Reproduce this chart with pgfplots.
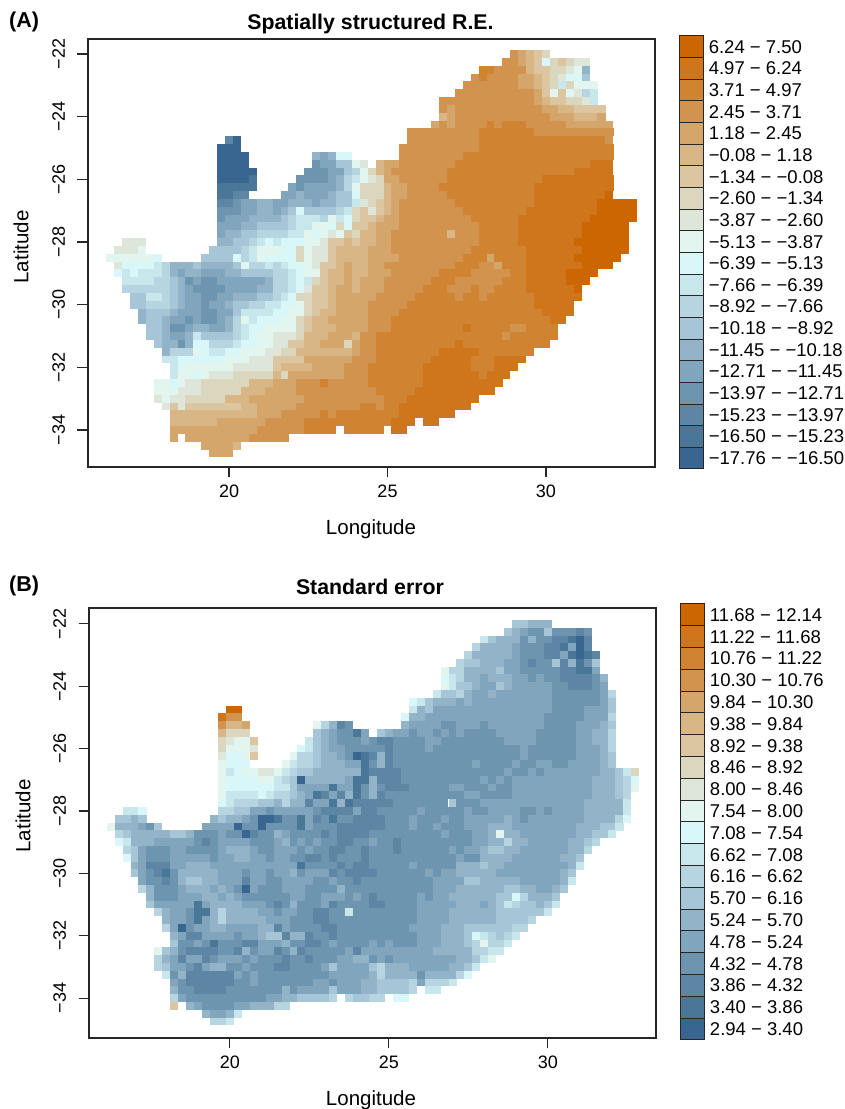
\documentclass[border=0pt]{standalone}
\usepackage{fontspec}
\setmainfont{Liberation Sans}
\usepackage{pgfplots}
\pgfplotsset{compat=1.18}
\definecolor{c1}{RGB}{56,102,144}\definecolor{c2}{RGB}{74,119,152}\definecolor{c3}{RGB}{92,134,164}\definecolor{c4}{RGB}{110,149,176}\definecolor{c5}{RGB}{128,165,188}
\definecolor{c6}{RGB}{147,180,200}\definecolor{c7}{RGB}{166,197,214}\definecolor{c8}{RGB}{183,213,224}\definecolor{c9}{RGB}{200,231,237}\definecolor{c10}{RGB}{217,246,248}
\definecolor{c11}{RGB}{226,245,239}\definecolor{c12}{RGB}{222,230,217}\definecolor{c13}{RGB}{219,214,190}\definecolor{c14}{RGB}{220,198,161}\definecolor{c15}{RGB}{216,182,133}
\definecolor{c16}{RGB}{212,166,107}\definecolor{c17}{RGB}{210,147,79}\definecolor{c18}{RGB}{208,131,49}\definecolor{c19}{RGB}{207,117,28}\definecolor{c20}{RGB}{204,102,0}
\pgfplotsset{colormap={rs}{color=(c1) color=(c2) color=(c3) color=(c4) color=(c5) color=(c6) color=(c7) color=(c8) color=(c9) color=(c10) color=(c11) color=(c12) color=(c13) color=(c14) color=(c15) color=(c16) color=(c17) color=(c18) color=(c19) color=(c20)}}
\pgfdeclareplotmark{run}{\pgfpathrectangle{\pgfpoint{-3.965pt}{-3.95pt}}{\pgfpoint{\runn*7.93pt+0.12pt}{7.92pt}}\pgfusepathqfill}
\pgfplotsset{
 runs/.style={scatter,only marks,mark=run,point meta=\thisrow{c},scatter/use mapped color={fill=mapped color,draw=none},visualization depends on={\thisrow{n}\as\runn}},
 map/.style={scale only axis,width=567pt,height=428pt,colormap name=rs,colormap access=piecewise constant,point meta min=0.5,point meta max=20.5,
  axis line style={line width=1.1pt,black!85},tick style={line width=1.1pt,black!85},tick align=outside,major tick length=10.5pt,xtick pos=bottom,ytick pos=left,
  xtick={20,25,30},xticklabels={20,25,30},ytick={-34,-32,-30,-28,-26,-24,-22},yticklabels={−34,−32,−30,−28,−26,−24,−22},
  tick label style={font=\fontsize{18}{20}\selectfont},yticklabel style={rotate=90,anchor=south},yticklabel shift=9pt,xticklabel style={yshift=-3.5pt}},
 leg/.style={scale only axis,width=24pt,axis lines=none,xmin=0,xmax=1,ymin=0,ymax=20,clip=false}
}
\newcommand\R[2]{\addplot[runs] table[row sep=crcr,x=x,y expr=#1]{x n c\\#2\\};}
\newcommand\LG[3]{\addplot[draw=black!85,line width=1pt,fill=c#1] coordinates {(0,#2)(1,#2)(1,#1)(0,#1)} --cycle;\node[anchor=west,inner sep=0pt,font=\fontsize{18.5}{20}\selectfont] at (axis cs:1.22,#2+0.5) {#3};}
\begin{document}
\begin{tikzpicture}[x=1pt,y=1pt]
\path[use as bounding box] (0,0) rectangle (845,1109);
\begin{axis}[map,at={(88pt,642pt)},anchor=south west,xmin=15.55,xmax=33.44,ymin=-35.18,ymax=-21.52]
\R{-22}{29 1 17\\29.25 1 16\\29.5 1 15\\29.75 1 14\\30 1 13}
\R{-22.25}{28.75 2 17\\29.25 1 16\\29.5 1 15\\29.75 1 14\\30 1 10\\30.25 1 13\\30.5 1 14\\30.75 1 13\\31 2 12}
\R{-22.5}{28 2 18\\28.5 4 17\\29.5 1 15\\29.75 2 14\\30.25 2 13\\30.75 1 12\\31 1 11\\31.25 1 6}
\R{-22.75}{27.75 1 17\\28 1 18\\28.25 4 17\\29.25 2 16\\29.75 1 15\\30 1 14\\30.25 1 13\\30.5 1 12\\30.75 2 10\\31.25 1 7}
\R{-23}{27.5 7 17\\29.25 2 16\\29.75 1 15\\30 1 14\\30.25 1 13\\30.5 1 9\\30.75 1 13\\31 3 11}
\R{-23.25}{27.25 10 17\\29.75 1 16\\30 1 14\\30.25 1 11\\30.5 1 14\\30.75 1 11\\31 1 12\\31.25 1 8\\31.5 1 9}
\R{-23.5}{26.75 12 17\\29.75 1 16\\30 1 15\\30.25 2 14\\30.75 2 13\\31.25 1 12\\31.5 1 9}
\R{-23.75}{26.75 1 17\\27 1 16\\27.25 11 17\\30 2 16\\30.5 2 15\\31 4 14}
\R{-24}{26.75 1 15\\27 1 16\\27.25 12 17\\30.25 3 16\\31 3 15\\31.75 1 16}
\R{-24.25}{26.5 1 16\\26.75 1 17\\27 1 16\\27.25 4 17\\28.25 1 18\\28.5 1 17\\28.75 3 18\\29.5 5 17\\30.75 6 16}
\R{-24.5}{25.75 9 17\\28 7 18\\29.75 10 17}
\R{-24.75}{20 1 3\\20.25 1 1\\25.75 9 17\\28 16 18\\32 1 17}
\R{-25}{19.75 3 1\\25.5 10 17\\28 17 18}
\R{-25.25}{19.75 4 1\\22.75 1 6\\23 1 5\\23.25 1 6\\23.5 2 10\\25.5 8 17\\27.5 19 18}
\R{-25.5}{19.75 4 1\\22.75 1 4\\23 2 5\\23.5 2 7\\24 1 11\\24.25 1 12\\24.75 1 15\\25 2 16\\25.5 7 17\\27.25 17 18\\31.5 3 19}
\R{-25.75}{19.75 5 1\\22.5 3 4\\23.25 2 5\\23.75 1 7\\24 1 8\\24.25 1 11\\24.5 1 13\\24.75 1 15\\25 1 16\\25.25 7 17\\27 16 18\\31 5 19}
\R{-26}{19.75 4 1\\20.75 1 2\\22.25 4 4\\23.25 1 5\\23.5 1 6\\23.75 1 8\\24 1 9\\24.25 1 11\\24.5 1 12\\24.75 1 13\\25 2 16\\25.5 6 17\\27 12 18\\30 9 19}
\R{-26.25}{19.75 5 2\\22 1 5\\22.25 1 4\\22.5 4 5\\23.5 1 6\\23.75 1 8\\24 1 11\\24.25 3 13\\25 1 15\\25.25 2 16\\25.75 4 17\\26.75 12 18\\29.75 10 19}
\R{-26.5}{19.75 2 2\\20.25 2 3\\21.75 2 5\\22.25 1 6\\22.5 3 5\\23.25 1 6\\23.5 2 7\\24 1 10\\24.25 3 13\\25 1 15\\25.25 2 16\\25.75 5 17\\27 11 18\\29.75 9 19\\32 1 20}
\R{-26.75}{19.75 2 3\\20.25 1 4\\20.5 2 5\\21 2 6\\21.5 2 5\\22 3 6\\22.75 1 5\\23 2 6\\23.5 2 7\\24 1 9\\24.25 1 12\\24.5 1 13\\24.75 1 14\\25 1 15\\25.25 1 16\\25.5 7 17\\27.25 10 18\\29.75 8 19\\31.75 5 20}
\R{-27}{19.75 3 4\\20.5 2 5\\21 2 6\\21.5 1 5\\21.75 1 6\\22 1 7\\22.25 1 10\\22.5 4 7\\23.5 1 8\\23.75 1 9\\24 1 13\\24.25 1 14\\24.5 1 12\\24.75 1 14\\25 1 15\\25.25 1 16\\25.5 8 17\\27.5 8 18\\29.5 9 19\\31.75 5 20}
\R{-27.25}{19.75 1 4\\20 3 5\\20.75 4 6\\21.75 1 7\\22 1 8\\22.25 3 9\\23 1 8\\23.25 1 11\\23.5 1 9\\23.75 1 10\\24 1 13\\24.25 2 14\\24.75 1 15\\25 2 16\\25.5 9 17\\27.75 6 18\\29.25 9 19\\31.5 6 20}
\R{-27.5}{19.75 3 5\\20.5 2 6\\21 4 7\\22 1 8\\22.25 2 9\\22.75 2 11\\23.25 1 10\\23.5 1 13\\23.75 1 10\\24 2 14\\24.5 1 15\\24.75 3 16\\25.5 10 17\\28 5 18\\29.25 8 19\\31.25 6 20}
\R{-27.75}{19.75 1 5\\20 2 6\\20.5 2 7\\21 4 8\\22 2 9\\22.5 1 11\\22.75 1 10\\23 1 11\\23.25 1 12\\23.5 1 11\\23.75 1 14\\24 1 13\\24.25 2 15\\24.75 2 16\\25.25 7 17\\27 1 15\\27.25 3 17\\28 5 18\\29.25 8 19\\31.25 6 20}
\R{-28}{16.75 3 12\\19.75 2 6\\20.25 2 7\\20.75 1 8\\21 1 9\\21.25 1 10\\21.5 1 9\\21.75 3 10\\22.5 2 11\\23 1 12\\23.25 2 14\\23.75 1 15\\24 1 14\\24.25 2 15\\24.75 2 16\\25.25 11 17\\28 5 18\\29.25 7 19\\31 7 20}
\R{-28.25}{16.5 3 12\\17.25 1 11\\19.5 4 7\\20.5 1 8\\20.75 1 9\\21 3 11\\21.75 2 10\\22.25 1 13\\22.5 1 11\\22.75 2 12\\23.25 1 14\\23.5 2 15\\24 2 15\\24.5 3 16\\25.25 10 17\\27.75 7 18\\29.5 7 19\\31.25 6 20}
\R{-28.5}{16.25 6 11\\17.75 1 10\\19.25 4 7\\20.25 1 10\\20.5 1 8\\20.75 1 9\\21 1 11\\21.25 4 10\\22.25 1 13\\22.5 1 11\\22.75 2 12\\23.25 1 14\\23.5 2 15\\24 2 15\\24.5 4 16\\25.5 8 17\\27.5 3 18\\28.25 1 16\\28.5 4 18\\29.5 6 19\\31 6 20}
\R{-28.75}{16.5 1 12\\16.75 4 10\\17.75 1 9\\18 1 8\\18.25 3 6\\19 1 7\\19.25 4 6\\20.25 1 7\\20.5 1 11\\20.75 2 8\\21.25 1 9\\21.5 1 8\\21.75 1 9\\22 2 10\\22.5 1 11\\22.75 1 12\\23 2 14\\23.5 1 15\\23.75 1 16\\24 2 15\\24.5 2 16\\25 9 17\\27.25 3 18\\28 2 17\\28.5 1 16\\28.75 3 18\\29.5 7 19\\31.25 4 20}
\R{-29}{16.5 1 10\\16.75 1 9\\17 1 10\\17.25 3 9\\18 1 8\\18.25 1 6\\18.5 1 5\\18.75 2 6\\19.25 3 5\\20 2 6\\20.5 4 7\\21.5 2 8\\22 1 9\\22.25 1 10\\22.5 2 11\\23 1 14\\23.25 2 15\\23.75 1 16\\24 2 15\\24.5 3 16\\25.25 6 17\\26.75 4 18\\27.75 5 17\\29 2 18\\29.5 5 19\\30.75 4 20}
\R{-29.25}{16.75 4 9\\17.75 2 8\\18.25 1 7\\18.5 1 6\\18.75 1 4\\19 1 5\\19.25 2 4\\19.75 6 5\\21.25 1 6\\21.5 2 8\\22 1 9\\22.25 1 10\\22.5 1 9\\22.75 1 13\\23 1 14\\23.25 2 15\\23.75 1 16\\24 1 15\\24.25 3 16\\25 6 17\\26.5 3 18\\27.25 6 17\\28.75 3 18\\29.5 5 19\\30.75 3 20}
\R{-29.5}{16.75 6 8\\18.25 1 7\\18.5 1 6\\18.75 1 5\\19 4 4\\20 4 5\\21 2 6\\21.5 2 8\\22 1 9\\22.25 1 10\\22.5 1 12\\22.75 2 14\\23.25 1 15\\23.5 2 16\\24 1 15\\24.25 3 16\\25 5 17\\26.25 3 18\\27 3 17\\27.75 1 18\\28 2 17\\28.5 4 18\\29.5 6 19\\31 1 20}
\R{-29.75}{17 2 7\\17.5 2 9\\18 1 8\\18.25 1 7\\18.5 1 6\\18.75 2 5\\19.25 2 4\\19.75 2 5\\20.25 3 6\\21 2 7\\21.5 1 8\\21.75 1 9\\22 1 10\\22.25 2 13\\22.75 2 14\\23.25 1 15\\23.5 2 16\\24 3 16\\24.75 5 17\\26 5 18\\27.25 1 17\\27.5 2 18\\28 1 17\\28.25 6 18\\29.75 6 19}
\R{-30}{17 2 7\\17.5 3 8\\18.25 1 7\\18.5 1 6\\18.75 2 5\\19.25 1 4\\19.5 2 5\\20 1 6\\20.25 2 7\\20.75 2 8\\21.25 2 9\\21.75 2 10\\22.25 1 11\\22.5 1 13\\22.75 2 14\\23.25 1 15\\23.5 5 16\\24.5 5 17\\25.75 16 18\\29.75 5 19}
\R{-30.25}{17.25 1 6\\17.5 3 7\\18.25 1 6\\18.5 3 5\\19.25 2 4\\19.75 2 5\\20.25 1 7\\20.5 4 9\\21.5 2 10\\22 2 11\\22.5 1 13\\22.75 1 14\\23 2 15\\23.5 4 16\\24.5 4 17\\25.5 18 18\\30 4 19}
\R{-30.5}{17.25 1 6\\17.5 2 7\\18 1 6\\18.25 2 5\\18.75 1 4\\19 1 5\\19.25 2 4\\19.75 1 5\\20 1 6\\20.25 1 8\\20.5 1 11\\20.75 1 9\\21 3 10\\21.75 2 11\\22.25 1 13\\22.5 1 14\\22.75 2 15\\23.25 5 16\\24.5 3 17\\25.25 20 18\\30.25 2 19}
\R{-30.75}{17.5 2 7\\18 1 6\\18.25 2 4\\18.75 1 5\\19 2 6\\19.5 2 5\\20 1 6\\20.25 1 8\\20.5 1 9\\20.75 2 10\\21.25 4 11\\22.25 1 13\\22.5 1 14\\22.75 3 15\\23.5 4 16\\24.5 3 17\\25.25 9 18\\27.5 1 19\\27.75 5 18\\29 2 17\\29.5 4 18}
\R{-31}{17.5 2 7\\18 1 6\\18.25 2 5\\18.75 1 6\\19 1 9\\19.25 4 7\\20.25 1 8\\20.5 1 9\\20.75 1 10\\21 2 11\\21.5 3 12\\22.25 1 13\\22.5 3 15\\23.25 3 16\\24 1 15\\24.25 2 17\\24.75 16 18\\28.75 1 17\\29 6 18}
\R{-31.25}{17.75 1 7\\18 2 6\\18.5 1 4\\18.75 1 6\\19 2 10\\19.5 3 8\\20.25 1 9\\20.5 2 10\\21 2 11\\21.5 2 12\\22 2 14\\22.5 2 15\\23 3 16\\23.75 1 13\\24 1 16\\24.25 2 17\\24.75 10 18\\27.25 1 19\\27.5 11 18}
\R{-31.5}{18 1 6\\18.25 3 8\\19 1 11\\19.25 1 10\\19.5 2 9\\20 2 10\\20.5 3 11\\21.25 2 12\\21.75 2 13\\22.25 7 15\\24 1 16\\24.25 2 17\\24.75 8 18\\26.75 5 19\\28 7 18}
\R{-31.75}{18 2 9\\18.5 6 10\\20 3 11\\20.75 3 12\\21.5 4 14\\22.5 6 16\\24 3 17\\24.75 7 18\\26.5 5 19\\27.75 3 18\\28.5 4 19}
\R{-32}{18.25 1 9\\18.5 1 10\\18.75 6 11\\20.25 5 12\\21.5 1 14\\21.75 4 15\\22.75 4 16\\23.75 3 17\\24.5 7 18\\26.25 6 19\\27.75 3 18\\28.5 3 19}
\R{-32.25}{18.25 1 9\\18.5 2 11\\19 1 10\\19.25 1 11\\19.5 3 12\\20.25 5 13\\21.5 1 15\\21.75 1 13\\22 7 16\\23.75 3 17\\24.5 7 18\\26.25 7 19\\28 1 18\\28.25 3 19}
\R{-32.5}{17.75 2 11\\18.25 1 10\\18.5 1 11\\18.75 2 12\\19.25 6 13\\20.75 3 15\\21.5 3 16\\22.25 3 17\\23 1 18\\23.25 1 17\\23.5 4 17\\24.5 7 18\\26.25 10 19}
\R{-32.75}{17.75 3 11\\18.5 3 12\\19.25 5 13\\20.5 3 15\\21.25 4 16\\22.25 10 17\\24.75 5 18\\26 10 19}
\R{-33}{17.75 1 12\\18 1 11\\18.25 2 12\\18.75 5 13\\20 3 15\\20.75 4 16\\21.75 3 16\\22.5 10 17\\25 3 18\\25.75 9 19}
\R{-33.25}{18 1 12\\18.25 1 14\\18.5 1 12\\18.75 7 14\\20.5 2 15\\21 5 16\\22.25 8 17\\24.25 2 18\\24.75 1 17\\25 2 18\\25.5 9 19}
\R{-33.5}{18.25 11 15\\21 3 16\\21.75 5 17\\23 1 18\\23.25 1 17\\23.5 8 18\\25.5 7 19}
\R{-33.75}{18.25 6 15\\19.75 6 16\\21.25 5 17\\22.5 11 18\\25.25 3 19\\26.25 2 19}
\R{-34}{18.25 11 16\\21 6 17\\22.5 4 18\\23.75 5 18\\25.25 2 19}
\R{-34.25}{18.25 1 16\\18.75 8 16\\20.75 5 17}
\R{-34.5}{19.25 4 16\\20.25 1 15}
\R{-34.75}{19.5 3 16}
\end{axis}
\begin{axis}[map,at={(89pt,71pt)},anchor=south west,xmin=15.57,xmax=33.4,ymin=-35.28,ymax=-21.49,height=430pt]
\R{-22}{29 2 7\\29.5 3 6}
\R{-22.25}{28.75 1 7\\29 1 6\\29.25 1 5\\29.5 2 4\\30 1 7\\30.25 3 4\\31 1 3\\31.25 1 4}
\R{-22.5}{28 1 9\\28.25 1 7\\28.5 3 6\\29.25 1 4\\29.5 1 6\\29.75 2 4\\30.25 2 3\\30.75 1 2\\31 1 1\\31.25 1 3}
\R{-22.75}{27.75 1 8\\28 4 6\\29 1 5\\29.25 3 4\\30 2 3\\30.5 1 2\\30.75 1 5\\31 1 1\\31.25 1 3}
\R{-23}{27.5 1 8\\27.75 5 6\\29 1 5\\29.25 3 4\\30 2 3\\30.5 1 5\\30.75 1 2\\31 1 1\\31.25 1 2\\31.5 1 3}
\R{-23.25}{27.25 1 8\\27.5 2 7\\28 3 6\\28.75 2 5\\29.25 1 4\\29.5 1 3\\29.75 2 4\\30.25 1 7\\30.5 1 3\\30.75 1 6\\31 1 2\\31.25 1 4\\31.5 1 7}
\R{-23.5}{26.75 1 11\\27 2 8\\27.5 4 6\\28.5 1 7\\28.75 2 5\\29.25 5 4\\30.5 2 3\\31 2 2\\31.5 1 5}
\R{-23.75}{26.75 1 10\\27 1 9\\27.25 1 8\\27.5 2 6\\28 1 5\\28.25 3 6\\29 2 5\\29.5 1 4\\29.75 1 5\\30 2 4\\30.5 4 3\\31.5 1 4\\31.75 1 6}
\R{-24}{26.75 1 11\\27 1 9\\27.25 2 7\\27.75 1 6\\28 2 5\\28.5 1 7\\28.75 1 6\\29 5 5\\30.25 2 4\\30.75 3 3\\31.5 1 4\\31.75 1 5}
\R{-24.25}{26.5 1 9\\26.75 2 7\\27.25 1 8\\27.5 1 6\\27.75 2 5\\28.25 1 6\\28.5 7 5\\30.25 6 4\\31.75 1 5\\32 1 8}
\R{-24.5}{25.75 1 10\\26 1 9\\26.25 1 7\\26.5 3 6\\27.25 1 5\\27.5 1 6\\27.75 10 5\\30.25 6 4\\31.75 1 5\\32 1 7}
\R{-24.75}{20 2 20\\25.75 1 9\\26 1 6\\26.25 1 7\\26.5 15 5\\30.25 4 4\\31.25 3 5\\32 1 7}
\R{-25}{19.75 1 19\\20 2 17\\25.5 1 10\\25.75 2 6\\26.25 15 5\\30 5 4\\31.25 3 5\\32 1 8}
\R{-25.25}{19.75 1 17\\20 2 15\\20.5 1 16\\22.75 1 11\\23 1 8\\23.25 1 6\\23.5 1 3\\23.75 1 4\\25.5 1 6\\25.75 4 5\\26.75 2 4\\27.25 3 5\\28 1 4\\28.25 7 5\\30 4 4\\31 3 5\\31.75 1 6\\32 1 7}
\R{-25.5}{19.75 1 15\\20 3 13\\22.75 1 7\\23 1 6\\23.25 1 5\\23.5 2 4\\24 1 2\\24.25 1 5\\24.75 1 7\\25 1 6\\25.25 2 5\\25.75 1 4\\26 2 5\\26.5 1 4\\26.75 1 5\\27 1 4\\27.25 1 5\\27.5 4 4\\28.5 5 5\\29.75 5 4\\31 2 5\\31.5 2 6\\32 1 8}
\R{-25.75}{19.75 1 13\\20 1 12\\20.25 2 11\\20.75 1 14\\22.5 1 9\\22.75 1 7\\23 1 6\\23.25 1 5\\23.5 3 4\\24.25 1 5\\24.5 1 4\\24.75 2 3\\25.25 4 4\\26.25 2 5\\26.75 8 4\\28.75 4 5\\29.75 5 4\\31 2 5\\31.5 2 6\\32 1 8}
\R{-26}{19.75 1 13\\20 3 11\\20.75 1 12\\22.25 1 10\\22.5 1 9\\22.75 1 7\\23 1 6\\23.25 2 5\\23.75 5 4\\25 1 3\\25.25 4 4\\26.25 1 5\\26.5 11 4\\29.25 1 5\\29.5 6 4\\31 3 5\\31.75 1 6\\32 1 8}
\R{-26.25}{19.75 1 12\\20 2 10\\20.5 1 11\\20.75 1 14\\22 1 11\\22.25 2 8\\22.75 1 7\\23 2 6\\23.5 1 5\\23.75 1 4\\24 1 1\\24.25 1 2\\24.5 1 3\\24.75 1 6\\25 1 3\\25.25 16 4\\29.25 1 5\\29.5 6 4\\31 3 5\\31.75 1 6\\32 1 7}
\R{-26.5}{19.75 1 11\\20 3 10\\21.75 1 11\\22 1 9\\22.25 2 8\\22.75 1 7\\23 3 6\\23.75 2 5\\24.25 1 2\\24.5 1 4\\24.75 1 6\\25 1 3\\25.25 10 4\\27.75 1 5\\28 4 4\\29 1 5\\29.25 2 4\\29.75 2 5\\30.25 2 4\\30.75 4 5\\31.75 1 6\\32 1 7}
\R{-26.75}{19.75 1 11\\20 1 9\\20.25 1 10\\20.5 2 11\\21 2 12\\21.5 1 11\\21.75 1 9\\22 1 8\\22.25 2 7\\22.75 6 6\\24.25 1 2\\24.5 4 3\\25.5 13 4\\28.75 1 5\\29 2 4\\29.5 1 5\\29.75 1 4\\30 7 5\\31.75 2 6\\32.25 1 7\\32.5 1 9\\32.75 1 13}
\R{-27}{19.75 1 11\\20 4 10\\21 2 11\\21.5 1 9\\21.75 1 8\\22 1 7\\22.25 1 1\\22.5 5 6\\23.75 1 5\\24 2 2\\24.5 1 6\\24.75 3 3\\25.5 10 4\\28 1 5\\28.25 1 4\\28.5 1 5\\28.75 1 4\\29 10 5\\31.5 3 6\\32.25 1 7\\32.5 1 8\\32.75 1 10}
\R{-27.25}{19.75 1 11\\20 6 10\\21.5 2 9\\22 1 7\\22.25 4 5\\23.25 1 2\\23.5 2 5\\24 1 2\\24.25 1 4\\24.5 1 6\\24.75 1 4\\25 3 3\\25.75 5 4\\27 2 5\\27.5 3 4\\28.25 1 5\\28.5 2 4\\29 10 5\\31.5 3 6\\32.25 1 7\\32.5 1 8\\32.75 1 11}
\R{-27.5}{19.75 1 11\\20 4 9\\21 1 10\\21.25 1 9\\21.5 2 8\\22 1 7\\22.25 1 6\\22.5 1 5\\22.75 1 2\\23 1 3\\23.25 1 5\\23.5 1 3\\23.75 1 6\\24 1 2\\24.25 1 4\\24.5 1 6\\24.75 1 3\\25 10 4\\27.5 2 5\\28 4 4\\29 10 5\\31.5 3 6\\32.25 1 7\\32.5 1 8}
\R{-27.75}{19.75 1 10\\20 1 9\\20.25 3 8\\21 2 7\\21.5 1 6\\21.75 1 8\\22 2 6\\22.5 1 3\\22.75 2 5\\23.25 1 2\\23.5 1 6\\23.75 1 2\\24 5 3\\25.25 7 4\\27 1 7\\27.25 3 4\\28 13 5\\31.25 5 6\\32.5 1 9}
\R{-28}{16.75 2 9\\17.25 1 10\\19.75 2 8\\20.25 2 7\\20.75 2 5\\21.25 1 4\\21.5 5 5\\22.75 1 4\\23 4 3\\24 1 5\\24.25 2 3\\24.75 5 4\\26 1 5\\26.25 5 4\\27.5 1 5\\27.75 2 4\\28.25 4 5\\29.25 2 4\\29.75 1 5\\30 1 4\\30.25 4 5\\31.25 5 6\\32.5 1 9}
\R{-28.25}{16.5 2 7\\17 1 6\\17.25 1 7\\19.5 1 6\\19.75 1 7\\20 2 6\\20.5 1 5\\20.75 1 4\\21 2 1\\21.5 1 2\\21.75 2 4\\22.25 1 2\\22.5 1 5\\22.75 1 3\\23 1 4\\23.25 1 2\\23.5 2 4\\24 4 3\\25 3 4\\25.75 1 5\\26 3 4\\26.75 1 5\\27 2 4\\27.5 5 5\\28.75 1 6\\29 1 5\\29.25 1 4\\29.5 7 5\\31.25 4 6\\32.25 1 8\\32.5 1 10}
\R{-28.5}{16.25 1 11\\16.5 3 6\\17.25 1 5\\17.5 1 4\\17.75 1 7\\19.25 4 5\\20.25 1 1\\20.5 2 4\\21 1 1\\21.25 4 4\\22.25 1 2\\22.5 1 5\\22.75 3 4\\23.5 6 3\\25 3 4\\25.75 1 5\\26 2 4\\26.5 1 5\\26.75 3 4\\27.5 3 5\\28.25 3 6\\29 8 5\\31 3 6\\31.75 2 7\\32.25 1 9}
\R{-28.75}{16.5 1 8\\16.75 1 7\\17 5 6\\18.25 2 7\\18.75 1 6\\19 3 4\\19.75 1 5\\20 2 4\\20.5 1 1\\20.75 1 3\\21 2 4\\21.5 1 6\\21.75 1 5\\22 4 4\\23 1 3\\23.25 1 4\\23.5 4 3\\24.5 9 4\\26.75 1 5\\27 3 4\\27.75 2 5\\28.25 1 6\\28.5 1 11\\28.75 2 6\\29.25 7 5\\31 2 6\\31.5 2 7\\32 1 9}
\R{-29}{16.5 1 10\\16.75 1 9\\17 3 6\\17.75 5 5\\19 1 4\\19.25 1 3\\19.5 1 4\\19.75 4 5\\20.75 3 4\\21.5 1 5\\21.75 1 6\\22 1 4\\22.25 1 5\\22.5 1 4\\22.75 1 5\\23 2 4\\23.5 2 3\\24 2 4\\24.5 1 5\\24.75 2 4\\25.25 1 3\\25.5 9 4\\27.75 2 5\\28.25 2 6\\28.75 1 8\\29 2 6\\29.5 5 5\\30.75 2 6\\31.25 1 7\\31.5 1 8}
\R{-29.25}{16.75 1 8\\17 1 7\\17.25 1 5\\17.5 3 4\\18.25 2 5\\18.75 4 4\\19.75 1 5\\20 3 6\\20.75 1 5\\21 2 4\\21.5 3 5\\22.25 1 4\\22.5 1 5\\22.75 2 4\\23.25 2 3\\23.75 2 4\\24.25 1 3\\24.5 3 4\\25.25 1 3\\25.5 6 4\\27 1 5\\27.25 1 4\\27.5 2 5\\28 1 6\\28.25 2 7\\28.75 2 6\\29.25 6 5\\30.75 2 6\\31.25 1 8}
\R{-29.5}{16.75 1 10\\17 1 7\\17.25 1 5\\17.5 3 4\\18.25 5 5\\19.5 1 4\\19.75 2 5\\20.25 2 6\\20.75 2 5\\21.25 1 4\\21.5 2 5\\22 2 4\\22.5 2 3\\23 1 4\\23.25 1 3\\23.5 3 4\\24.25 1 3\\24.5 11 4\\27.25 1 5\\27.5 2 4\\28 4 6\\29 6 5\\30.5 2 6\\31 1 7}
\R{-29.75}{17 1 6\\17.25 1 5\\17.5 3 3\\18.25 2 5\\18.75 3 6\\19.5 11 5\\22.25 1 2\\22.5 4 4\\23.5 1 3\\23.75 1 4\\24 2 3\\24.5 5 4\\25.75 1 5\\26 5 4\\27.25 3 6\\28 1 7\\28.25 2 6\\28.75 8 5\\30.75 1 6\\31 1 9}
\R{-30}{17 1 7\\17.25 1 5\\17.5 1 4\\17.75 1 3\\18 1 2\\18.25 1 4\\18.5 5 6\\19.75 3 5\\20.5 1 4\\20.75 2 5\\21.25 1 4\\21.5 2 5\\22 1 6\\22.25 1 4\\22.5 3 5\\23.25 1 3\\23.5 1 4\\23.75 4 3\\24.75 6 4\\26.25 1 5\\26.5 1 4\\26.75 2 5\\27.25 5 6\\28.5 8 5\\30.5 1 6\\30.75 1 7}
\R{-30.25}{17.25 1 5\\17.5 2 4\\18 1 3\\18.25 1 4\\18.5 1 6\\18.75 2 7\\19.25 2 6\\19.75 3 5\\20.5 1 3\\20.75 2 5\\21.25 2 4\\21.75 4 5\\22.75 2 4\\23.25 1 5\\23.5 2 4\\24 1 3\\24.25 9 4\\26.5 4 5\\27.5 2 7\\28 5 6\\29.25 5 5\\30.5 1 6\\30.75 1 9}
\R{-30.5}{17.25 1 8\\17.5 1 6\\17.75 3 4\\18.5 1 5\\18.75 3 6\\19.5 1 5\\19.75 1 6\\20 1 5\\20.25 1 4\\20.5 1 1\\20.75 1 5\\21 3 4\\21.75 3 5\\22.5 4 4\\23.5 1 6\\23.75 11 4\\26.5 3 5\\27.25 6 6\\28.75 2 7\\29.25 2 6\\29.75 2 5\\30.25 1 6\\30.5 1 7}
\R{-30.75}{17.5 1 6\\17.75 3 4\\18.5 3 5\\19.25 2 6\\19.75 1 5\\20 1 6\\20.25 1 5\\20.5 6 4\\22 2 5\\22.5 2 4\\23 3 5\\23.75 1 4\\24 1 5\\24.25 1 4\\24.5 1 3\\24.75 5 4\\26 1 5\\26.25 1 4\\26.5 2 5\\27 6 6\\28.5 2 7\\29 1 10\\29.25 1 8\\29.5 3 6\\30.25 1 7}
\R{-31}{17.5 1 7\\17.75 5 5\\19 1 2\\19.25 1 5\\19.5 4 6\\20.5 3 5\\21.25 1 4\\21.5 1 3\\21.75 1 4\\22 1 6\\22.25 3 4\\23 1 5\\23.25 1 3\\23.5 4 4\\24.5 2 3\\25 4 4\\26 5 5\\27.25 3 6\\28 1 5\\28.25 1 6\\28.5 1 7\\28.75 1 9\\29 1 8\\29.25 2 7\\29.75 1 6\\30 1 7\\30.25 1 9}
\R{-31.25}{17.75 1 8\\18 1 6\\18.25 2 5\\18.75 1 4\\19 2 2\\19.5 1 6\\19.75 1 8\\20 4 6\\21 2 5\\21.5 1 4\\21.75 2 5\\22.25 2 4\\22.75 2 3\\23.25 2 4\\23.75 1 9\\24 8 4\\26 4 5\\27 6 6\\28.5 6 7\\30 1 9}
\R{-31.5}{18 1 6\\18.25 2 5\\18.75 1 4\\19 1 2\\19.25 1 5\\19.5 1 6\\19.75 1 8\\20 5 6\\21.25 3 5\\22 3 4\\22.75 2 3\\23.25 11 4\\26 4 5\\27 6 6\\28.5 4 7\\29.5 1 8}
\R{-31.75}{18 1 8\\18.25 1 5\\18.5 1 1\\18.75 1 4\\19 2 5\\19.5 2 6\\20 4 5\\21 2 6\\21.5 1 3\\21.75 1 5\\22 4 4\\23 2 3\\23.5 9 4\\25.75 4 5\\26.75 3 6\\27.5 6 7\\29 2 8}
\R{-32}{18.25 1 6\\18.5 1 5\\18.75 2 3\\19.25 4 5\\20.25 1 4\\20.5 2 5\\21 1 6\\21.25 2 7\\21.75 1 3\\22 2 6\\22.5 1 3\\22.75 2 4\\23.25 1 3\\23.5 10 4\\26 3 5\\26.75 3 6\\27.5 1 7\\27.75 1 10\\28 1 9\\28.25 1 8\\28.5 1 7\\28.75 1 8\\29 1 9}
\R{-32.25}{18.25 1 7\\18.5 2 4\\19 1 5\\19.25 1 4\\19.5 1 2\\19.75 3 4\\20.5 2 3\\21 3 5\\21.75 1 6\\22 2 4\\22.5 2 3\\23 1 4\\23.25 1 5\\23.5 4 4\\24.5 1 5\\24.75 1 4\\25 1 5\\25.25 3 4\\26 3 5\\26.75 3 6\\27.5 1 7\\27.75 1 8\\28 1 11\\28.25 2 8\\28.75 1 9}
\R{-32.5}{17.75 1 11\\18 1 7\\18.25 1 6\\18.5 1 4\\18.75 4 3\\19.75 2 4\\20.25 1 3\\20.5 1 6\\20.75 1 4\\21 2 5\\21.5 1 3\\21.75 1 4\\22 1 6\\22.25 1 3\\22.5 5 4\\23.75 1 5\\24 1 3\\24.25 9 5\\26.5 5 6\\27.75 2 8\\28.25 2 9}
\R{-32.75}{17.75 1 8\\18 1 6\\18.25 1 5\\18.5 1 3\\18.75 2 5\\19.25 1 3\\19.5 1 4\\19.75 3 5\\20.5 1 4\\20.75 1 5\\21 3 4\\21.75 1 3\\22 2 4\\22.5 1 3\\22.75 3 4\\23.5 2 5\\24 2 6\\24.5 1 4\\24.75 1 5\\25 1 4\\25.25 8 5\\27.25 2 6\\27.75 1 7\\28 1 9\\28.25 1 11}
\R{-33}{17.75 1 8\\18 1 7\\18.25 2 5\\18.75 1 4\\19 1 3\\19.25 1 5\\19.5 2 6\\20 2 4\\20.5 1 5\\20.75 3 4\\21.5 2 3\\22 4 4\\23 1 5\\23.25 1 7\\23.5 4 5\\24.5 1 7\\24.75 1 8\\25 3 6\\25.75 5 5\\27 2 6\\27.5 1 7\\27.75 1 9}
\R{-33.25}{18 1 9\\18.25 1 4\\18.5 1 6\\18.75 6 3\\20.25 1 5\\20.5 1 4\\20.75 1 5\\21 9 4\\23.25 5 5\\24.5 1 6\\24.75 1 8\\25 4 6\\26 1 4\\26.25 4 6\\27.25 1 8\\27.5 1 10}
\R{-33.5}{18.25 1 5\\18.5 1 4\\18.75 6 3\\20.25 2 4\\20.75 1 5\\21 7 4\\22.75 2 5\\23.25 1 4\\23.5 3 5\\24.25 2 6\\24.75 4 7\\25.75 1 8\\26 1 5\\26.25 3 8\\27 1 9}
\R{-33.75}{18.25 1 6\\18.5 2 4\\19 4 3\\20 7 4\\21.75 1 6\\22 1 4\\22.25 4 5\\23.25 1 7\\23.5 3 5\\24.25 2 6\\24.75 4 7\\25.75 1 8\\26.25 2 9}
\R{-34}{18.25 1 8\\18.5 1 5\\18.75 10 4\\21.25 2 5\\21.75 2 6\\22.25 4 7\\23.25 1 8\\23.75 1 8\\24 2 7\\24.5 2 8\\25.25 2 10}
\R{-34.25}{18.25 1 14\\18.75 1 6\\19 1 5\\19.25 4 4\\20.25 2 5\\20.75 3 6\\21.5 2 8}
\R{-34.5}{19.25 1 6\\19.5 2 5\\20 1 6\\20.25 1 9}
\R{-34.75}{19.5 2 8\\20 1 9}
\end{axis}
\begin{axis}[leg,height=433pt,at={(679.3pt,640pt)},anchor=south west]
\LG{1}{0}{−17.76 − −16.50}\LG{2}{1}{−16.50 − −15.23}\LG{3}{2}{−15.23 − −13.97}\LG{4}{3}{−13.97 − −12.71}\LG{5}{4}{−12.71 − −11.45}
\LG{6}{5}{−11.45 − −10.18}\LG{7}{6}{−10.18 − −8.92}\LG{8}{7}{−8.92 − −7.66}\LG{9}{8}{−7.66 − −6.39}\LG{10}{9}{−6.39 − −5.13}
\LG{11}{10}{−5.13 − −3.87}\LG{12}{11}{−3.87 − −2.60}\LG{13}{12}{−2.60 − −1.34}\LG{14}{13}{−1.34 − −0.08}\LG{15}{14}{−0.08 − 1.18}
\LG{16}{15}{1.18 − 2.45}\LG{17}{16}{2.45 − 3.71}\LG{18}{17}{3.71 − 4.97}\LG{19}{18}{4.97 − 6.24}\LG{20}{19}{6.24 − 7.50}
\end{axis}
\begin{axis}[leg,height=436pt,at={(680.5pt,69pt)},anchor=south west]
\LG{1}{0}{2.94 − 3.40}\LG{2}{1}{3.40 − 3.86}\LG{3}{2}{3.86 − 4.32}\LG{4}{3}{4.32 − 4.78}\LG{5}{4}{4.78 − 5.24}
\LG{6}{5}{5.24 − 5.70}\LG{7}{6}{5.70 − 6.16}\LG{8}{7}{6.16 − 6.62}\LG{9}{8}{6.62 − 7.08}\LG{10}{9}{7.08 − 7.54}
\LG{11}{10}{7.54 − 8.00}\LG{12}{11}{8.00 − 8.46}\LG{13}{12}{8.46 − 8.92}\LG{14}{13}{8.92 − 9.38}\LG{15}{14}{9.38 − 9.84}
\LG{16}{15}{9.84 − 10.30}\LG{17}{16}{10.30 − 10.76}\LG{18}{17}{10.76 − 11.22}\LG{19}{18}{11.22 − 11.68}\LG{20}{19}{11.68 − 12.14}
\end{axis}
\tikzset{lab/.style={inner sep=0pt,font=\fontsize{20.5}{22}\selectfont},ttl/.style={inner sep=0pt,font=\fontsize{21.3}{23}\bfseries\selectfont},tag/.style={inner sep=0pt,anchor=west,font=\fontsize{21.5}{23}\bfseries\selectfont}}
\node[tag] at (9,1087) {(A)};
\node[ttl] at (370.5,1085) {Spatially structured R.E.};
\node[lab] at (371,580) {Longitude};
\node[lab,rotate=90] at (21,862) {Latitude};
\node[tag] at (9,523) {(B)};
\node[ttl] at (370,522.5) {Standard error};
\node[lab] at (371,9) {Longitude};
\node[lab,rotate=90] at (23,293) {Latitude};
\end{tikzpicture}
\end{document}
